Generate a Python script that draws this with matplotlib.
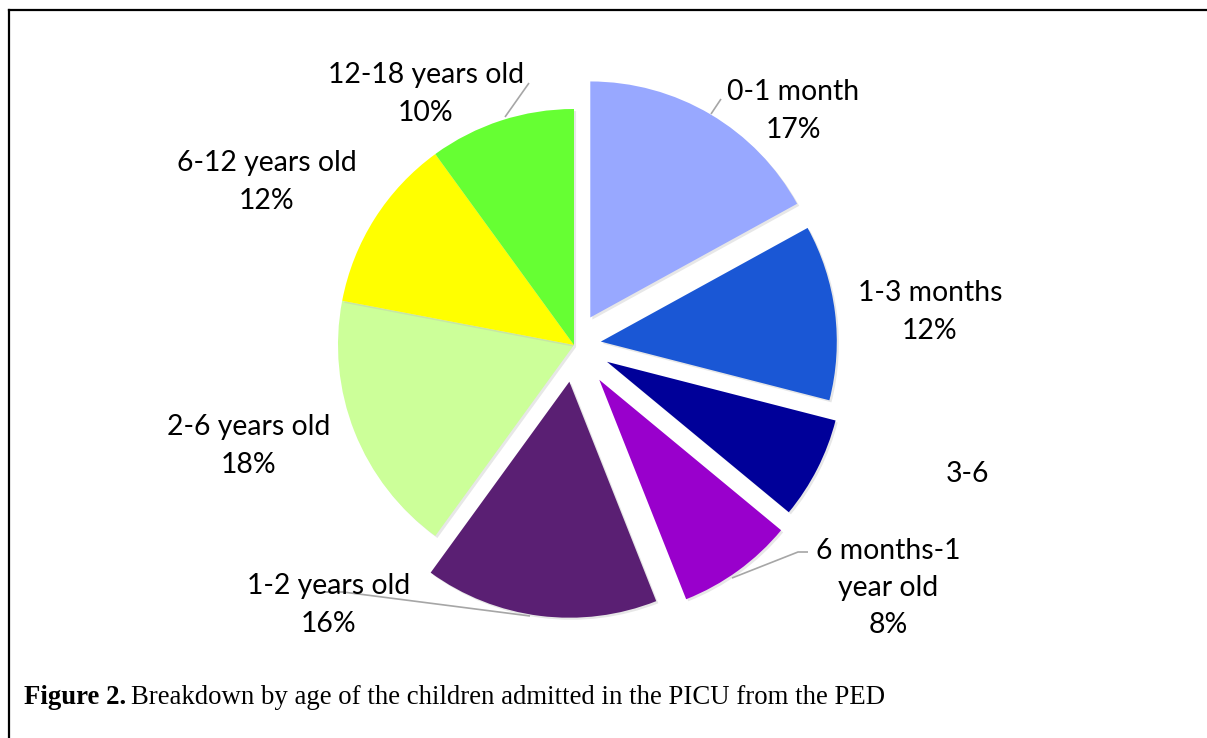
import matplotlib
matplotlib.use("Agg")
import matplotlib.pyplot as plt
from matplotlib.lines import Line2D
import matplotlib.patheffects as pe

# ---- data ----
categories = ["0-1 month", "1-3 months", "3-6", "6 months-1\nyear old",
              "1-2 years old", "2-6 years old", "6-12 years old", "12-18 years old"]
values = [17, 12, 7, 8, 16, 18, 12, 10]
show_pct = [True, True, False, True, True, True, True, True]
colors = ["#98A8FF", "#1A57D5", "#000099", "#9900CC",
          "#5A1F73", "#CCFF99", "#FFFF00", "#66FF33"]
explode_px = [32, 27, 37, 43, 37, 0, 0, 0]

# ---- layout (pixel coords, origin top-left) ----
W, H = 1207, 738
center_px = (574, 345)
radius = 236
label_pos = [(793, 111), (930, 312), (967, 474), (888, 588),
             (329, 605), (249, 446), (267, 182), (426, 94)]
leaders = [
    [(721, 99), (711, 114)],
    None,
    None,
    [(808, 552), (798, 552), (732, 578)],
    [(325, 592), (343, 592), (530, 616)],
    None,
    None,
    [(529, 83), (505, 117)],
]

fig = plt.figure(figsize=(W / 100, H / 100), dpi=100)
ax = fig.add_axes([0, 0, 1, 1])

def fy(y):
    return H - y

wedges, _ = ax.pie(values, colors=colors, explode=explode_px, startangle=90,
                   counterclock=False, radius=radius,
                   center=(center_px[0], fy(center_px[1])),
                   wedgeprops=dict(linewidth=0), frame=True)
for w in wedges:
    w.set_path_effects([pe.SimplePatchShadow(offset=(1.5, -1.5), shadow_rgbFace="#BBBBBB", alpha=0.35),
                        pe.Normal()])
ax.set_xlim(0, W)
ax.set_ylim(0, H)
ax.axis("off")

for cat, v, sp, (x, y) in zip(categories, values, show_pct, label_pos):
    txt = cat + (f"\n{v}%" if sp else "")
    ax.text(x, fy(y), txt, ha="center", va="center", fontsize=20.4,
            family="Lato", color="#000000", linespacing=1.53)

for ld in leaders:
    if ld:
        ax.plot([p[0] for p in ld], [fy(p[1]) for p in ld], color="#A6A6A6",
                lw=1.2, solid_capstyle="butt")

# border box (left and top edges visible)
fig.add_artist(Line2D([9 / W, 9 / W], [0, 1 - 10 / H], transform=fig.transFigure,
                      color="black", lw=1.6))
fig.add_artist(Line2D([9 / W, 1], [1 - 10 / H, 1 - 10 / H], transform=fig.transFigure,
                      color="black", lw=1.6))

# caption
renderer = fig.canvas.get_renderer()
t1 = ax.text(24, fy(697), "Figure 2.", ha="left", va="center", fontsize=19.3,
             family="Liberation Serif", fontweight="bold")
bb = t1.get_window_extent(renderer=renderer)
ax.text(bb.x1 + 5, fy(697), "Breakdown by age of the children admitted in the PICU from the PED",
        ha="left", va="center", fontsize=19.3, family="Liberation Serif")

fig.savefig("out.png", dpi=100)
